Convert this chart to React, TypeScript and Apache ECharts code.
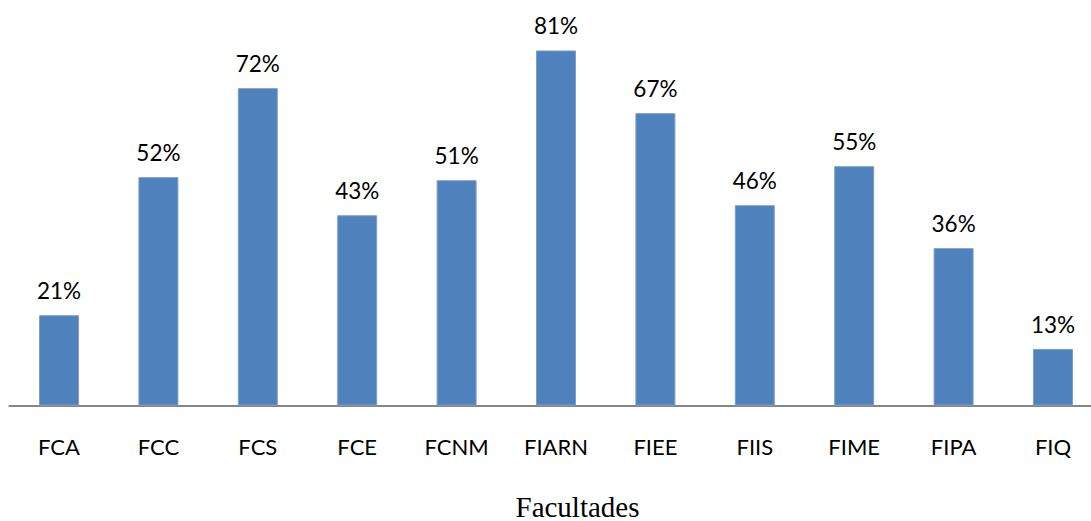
import React, { useEffect, useRef } from "react";
import * as echarts from "echarts";

const categories = ["FCA", "FCC", "FCS", "FCE", "FCNM", "FIARN", "FIEE", "FIIS", "FIME", "FIPA", "FIQ"];
const values = [20.6, 52.1, 72.4, 43.4, 51.4, 81.0, 66.7, 45.7, 54.6, 35.9, 12.9];
const axisTitle = "Facultades";

export default function App() {
  const ref = useRef<HTMLDivElement>(null);
  useEffect(() => {
    if (!ref.current) return;
    const chart = echarts.init(ref.current, null, { renderer: "svg" });
    chart.setOption({
      animation: false,
      backgroundColor: "#ffffff",
      grid: { left: 9.3, width: 1093.4, top: 11, bottom: 115.5, containLabel: false },
      xAxis: {
        type: "category",
        data: categories,
        axisLine: { show: true, lineStyle: { color: "#868686", width: 2 } },
        axisTick: { show: false },
        axisLabel: {
          color: "#000000",
          fontFamily: "Lato",
          fontSize: 22,
          margin: 30,
        },
      },
      yAxis: {
        type: "value",
        min: 0,
        max: 90,
        show: false,
        splitLine: { show: false },
      },
      series: [
        {
          type: "bar",
          data: values,
          barWidth: 40,
          itemStyle: { color: "#4F81BD", borderColor: "#7C9FCC", borderWidth: 1 },
          label: {
            show: true,
            position: "top",
            distance: 13,
            color: "#000000",
            fontFamily: "Lato",
            fontSize: 22.5,
            formatter: (p: any) => Math.round(p.value) + "%",
          },
        },
      ],
      graphic: [
        {
          type: "text",
          x: 577.5,
          y: 507,
          style: {
            text: axisTitle,
            fill: "#000000",
            fontFamily: "Liberation Serif",
            fontSize: 29,
            textAlign: "center",
            textVerticalAlign: "middle",
          },
        },
      ],
    });
    return () => chart.dispose();
  }, []);
  return (
    <div style={{ position: "fixed", left: 0, top: 0, width: 1091, height: 521, overflow: "hidden" }}>
      <div ref={ref} style={{ width: 1110, height: 521 }} />
    </div>
  );
}
